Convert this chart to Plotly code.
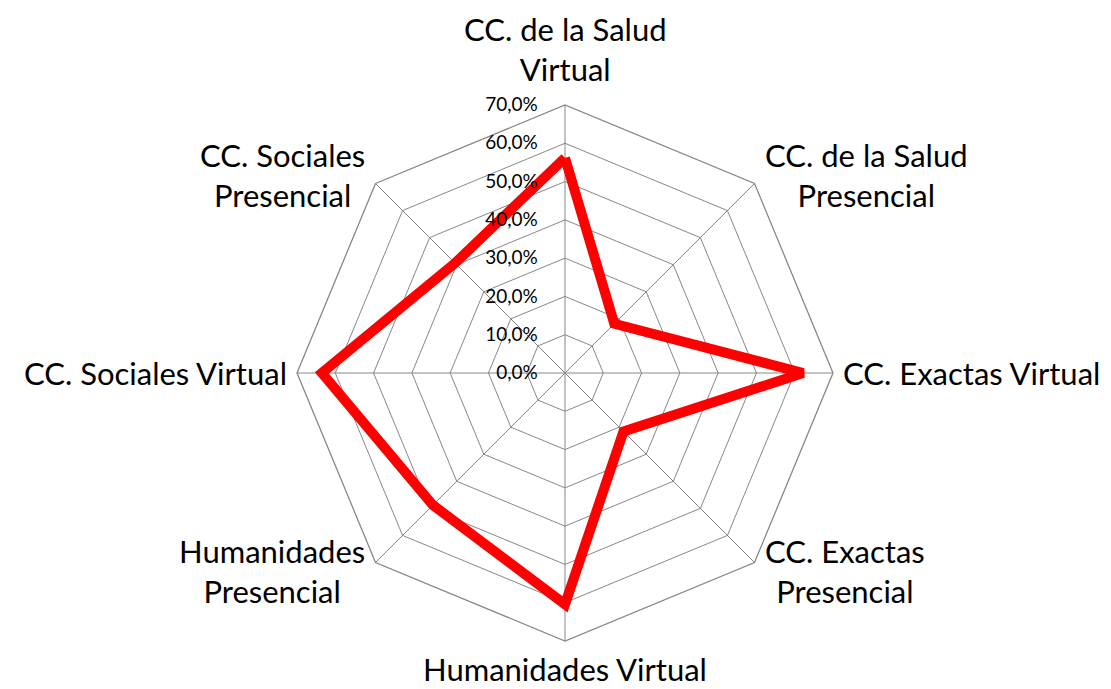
import math
import plotly.graph_objects as go

categories = [
    "CC. de la Salud<br>Virtual",
    "CC. de la Salud<br>Presencial",
    "CC. Exactas Virtual",
    "CC. Exactas<br>Presencial",
    "Humanidades Virtual",
    "Humanidades<br>Presencial",
    "CC. Sociales Virtual",
    "CC. Sociales<br>Presencial",
]
values = [0.562, 0.182, 0.622, 0.216, 0.604, 0.488, 0.635, 0.406]
radial_ticks = [0.0, 0.1, 0.2, 0.3, 0.4, 0.5, 0.6, 0.7]

fig = go.Figure()
fig.add_trace(go.Scatterpolar(
    r=values + values[:1],
    theta=categories + categories[:1],
    mode="lines",
    line=dict(color="#ff0000", width=10),
    showlegend=False,
    hoverinfo="skip",
))

W, H = 1111, 689
off = 8  # page body margin
cx, cy, R = 565 - off, 373 - off, 268

# category labels placed around the outer polygon (Excel-like placement)
annotations = []
n = len(categories)
for i, lab in enumerate(categories):
    ang = math.radians(90 - i * 360 / n)
    c, s = math.cos(ang), math.sin(ang)
    if s > 0.9:
        pad = 15
    elif s < -0.9:
        pad = 7
    elif abs(s) < 0.1:
        pad = 8
    else:
        pad = 12
    px = cx + (R + pad) * c
    py = cy - (R + pad) * s
    if c > 0.1:
        xa = "left"
    elif c < -0.1:
        xa = "right"
    else:
        xa = "center"
    if s > 0.9:
        ya = "bottom"
    elif s < -0.9:
        ya = "top"
    else:
        ya = "middle"
    annotations.append(dict(
        text=lab, x=px / W, y=1 - py / H, xref="paper", yref="paper",
        xanchor=xa, yanchor=ya, align="center", showarrow=False,
        font=dict(size=31, color="black"),
    ))

fig.update_layout(
    width=W, height=H,
    margin=dict(l=0, r=0, t=0, b=0),
    paper_bgcolor="white",
    plot_bgcolor="white",
    separators=",.",
    font=dict(family="Lato, Open Sans, sans-serif", color="black"),
    annotations=annotations,
    polar=dict(
        domain=dict(x=[(cx - R) / W, (cx + R) / W],
                    y=[(H - cy - R) / H, (H - cy + R) / H]),
        bgcolor="white",
        gridshape="linear",
        angularaxis=dict(
            rotation=90, direction="clockwise",
            showline=True, linecolor="#878787", linewidth=1.3,
            gridcolor="#878787", gridwidth=1.3,
            ticks="", showticklabels=False,
        ),
        radialaxis=dict(
            range=[0, 0.7], tickvals=radial_ticks,
            tickformat=".1%",
            angle=90, tickangle=90, side="counterclockwise",
            showline=False, ticks="outside", ticklen=20,
            tickcolor="rgba(0,0,0,0)",
            gridcolor="#878787", gridwidth=1.3,
            tickfont=dict(size=19, color="black"),
        ),
    ),
)
fig.write_html("out.html")
